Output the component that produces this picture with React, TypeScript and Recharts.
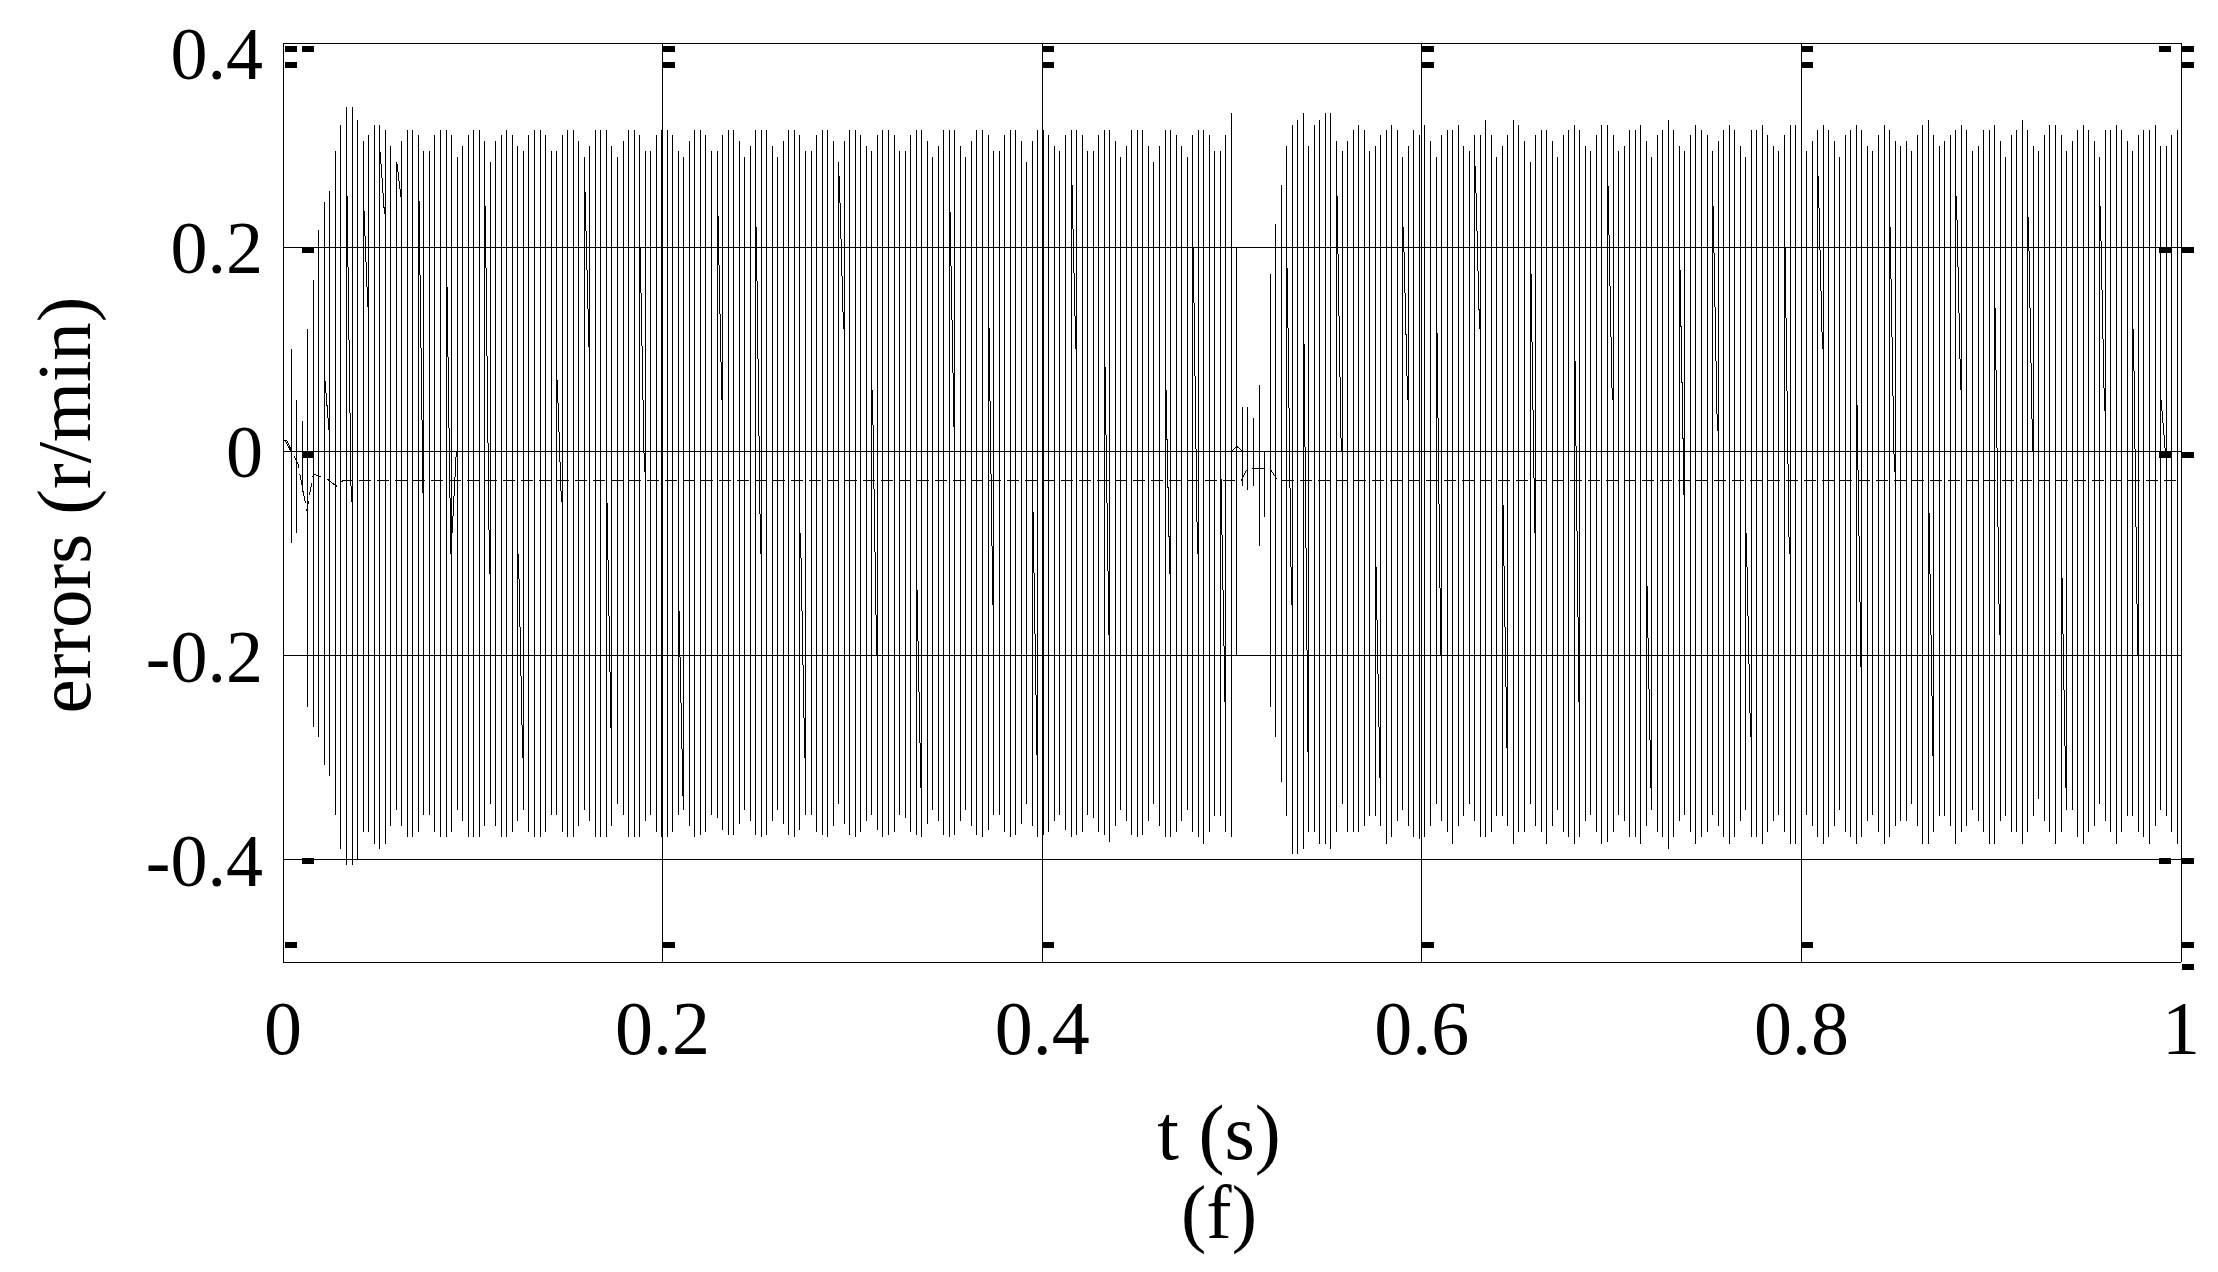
import { LineChart, Line, XAxis, YAxis, CartesianGrid, ReferenceLine, Label } from "recharts";

const SERIF = '"Liberation Serif", "Times New Roman", serif';

// spikes come every ~2.9 ms; first one just after t=0
const SPIKE_T0 = 0.0043;
const SPIKE_DT = 0.002914;
const START_LEVEL = 0.011;
const REST_LEVEL = 0.0;
const GAP_LEVEL = 0.005;
const gapSpikes = [171];

// peak of each spike (r/min)
const spikeHigh = [
  0.100, 0.050, 0.030, 0.120, 0.168, 0.217, 0.244, 0.255, 0.294, 0.320,
  0.337, 0.337, 0.325, 0.304, 0.310, 0.320, 0.320, 0.315, 0.299, 0.283,
  0.304, 0.315, 0.315, 0.310, 0.294, 0.294, 0.310, 0.315, 0.315, 0.310,
  0.288, 0.299, 0.310, 0.315, 0.315, 0.304, 0.283, 0.304, 0.310, 0.315,
  0.310, 0.299, 0.294, 0.310, 0.315, 0.315, 0.310, 0.294, 0.294, 0.310,
  0.315, 0.315, 0.304, 0.288, 0.299, 0.315, 0.315, 0.315, 0.299, 0.288,
  0.304, 0.315, 0.315, 0.310, 0.294, 0.294, 0.310, 0.315, 0.315, 0.310,
  0.294, 0.288, 0.304, 0.315, 0.315, 0.310, 0.294, 0.294, 0.310, 0.315,
  0.315, 0.304, 0.288, 0.299, 0.315, 0.315, 0.315, 0.299, 0.288, 0.304,
  0.315, 0.315, 0.310, 0.294, 0.294, 0.310, 0.315, 0.315, 0.304, 0.283,
  0.304, 0.315, 0.315, 0.310, 0.299, 0.294, 0.310, 0.315, 0.315, 0.310,
  0.294, 0.294, 0.310, 0.315, 0.315, 0.304, 0.288, 0.299, 0.315, 0.315,
  0.315, 0.299, 0.288, 0.304, 0.315, 0.315, 0.310, 0.294, 0.294, 0.310,
  0.315, 0.315, 0.304, 0.283, 0.304, 0.315, 0.315, 0.310, 0.299, 0.294,
  0.310, 0.315, 0.315, 0.310, 0.294, 0.294, 0.310, 0.315, 0.315, 0.304,
  0.288, 0.299, 0.315, 0.315, 0.315, 0.299, 0.283, 0.299, 0.315, 0.315,
  0.310, 0.299, 0.288, 0.310, 0.315, 0.315, 0.310, 0.294, 0.294, 0.310,
  0.331, 0.200, 0.044, 0.044, 0.033, 0.065, -0.017, 0.174, 0.223, 0.261,
  0.299, 0.320, 0.325, 0.331, 0.299, 0.320, 0.325, 0.331, 0.331, 0.304,
  0.294, 0.304, 0.315, 0.320, 0.315, 0.294, 0.299, 0.310, 0.315, 0.320,
  0.315, 0.288, 0.299, 0.315, 0.310, 0.320, 0.304, 0.288, 0.310, 0.315,
  0.315, 0.320, 0.299, 0.294, 0.310, 0.310, 0.325, 0.310, 0.288, 0.299,
  0.310, 0.325, 0.320, 0.304, 0.283, 0.310, 0.315, 0.315, 0.304, 0.288,
  0.310, 0.315, 0.320, 0.315, 0.299, 0.294, 0.310, 0.320, 0.320, 0.310,
  0.294, 0.299, 0.315, 0.315, 0.320, 0.304, 0.288, 0.310, 0.315, 0.325,
  0.315, 0.299, 0.294, 0.310, 0.320, 0.315, 0.310, 0.294, 0.304, 0.315,
  0.320, 0.315, 0.299, 0.288, 0.315, 0.315, 0.320, 0.310, 0.299, 0.294,
  0.310, 0.320, 0.320, 0.310, 0.294, 0.304, 0.315, 0.320, 0.315, 0.304,
  0.288, 0.310, 0.315, 0.320, 0.315, 0.299, 0.294, 0.310, 0.320, 0.315,
  0.304, 0.299, 0.304, 0.294, 0.310, 0.320, 0.325, 0.310, 0.299, 0.304,
  0.310, 0.315, 0.320, 0.315, 0.294, 0.299, 0.315, 0.315, 0.320, 0.304,
  0.288, 0.310, 0.315, 0.325, 0.315, 0.299, 0.294, 0.310, 0.320, 0.320,
  0.310, 0.294, 0.304, 0.315, 0.320, 0.315, 0.304, 0.288, 0.315, 0.315,
  0.320, 0.315, 0.304, 0.294, 0.310, 0.315, 0.315, 0.320, 0.299, 0.299,
  0.310, 0.315,
];

// trough of each spike (r/min)
const spikeLow = [
  -0.090, -0.080, -0.040, -0.250, -0.270, -0.280, -0.307, -0.318, -0.356, -0.389,
  -0.405, -0.405, -0.400, -0.373, -0.373, -0.384, -0.389, -0.384, -0.367, -0.351,
  -0.367, -0.378, -0.378, -0.373, -0.356, -0.356, -0.373, -0.378, -0.378, -0.373,
  -0.351, -0.362, -0.378, -0.378, -0.378, -0.367, -0.345, -0.367, -0.378, -0.378,
  -0.373, -0.362, -0.351, -0.373, -0.378, -0.378, -0.373, -0.356, -0.356, -0.373,
  -0.378, -0.378, -0.367, -0.351, -0.362, -0.378, -0.378, -0.378, -0.367, -0.345,
  -0.356, -0.378, -0.378, -0.378, -0.362, -0.356, -0.373, -0.378, -0.378, -0.373,
  -0.356, -0.351, -0.367, -0.378, -0.376, -0.373, -0.356, -0.359, -0.371, -0.376,
  -0.376, -0.365, -0.351, -0.362, -0.376, -0.378, -0.376, -0.362, -0.351, -0.365,
  -0.376, -0.378, -0.371, -0.356, -0.356, -0.373, -0.376, -0.378, -0.367, -0.345,
  -0.365, -0.376, -0.378, -0.373, -0.362, -0.356, -0.371, -0.378, -0.376, -0.373,
  -0.356, -0.359, -0.373, -0.376, -0.378, -0.365, -0.351, -0.362, -0.376, -0.378,
  -0.376, -0.362, -0.351, -0.367, -0.376, -0.378, -0.371, -0.356, -0.356, -0.373,
  -0.378, -0.376, -0.365, -0.345, -0.367, -0.378, -0.376, -0.373, -0.362, -0.356,
  -0.371, -0.378, -0.376, -0.373, -0.356, -0.359, -0.373, -0.376, -0.382, -0.367,
  -0.351, -0.362, -0.376, -0.378, -0.376, -0.362, -0.345, -0.367, -0.378, -0.378,
  -0.373, -0.362, -0.351, -0.373, -0.378, -0.384, -0.373, -0.357, -0.357, -0.373,
  -0.378, -0.200, -0.034, -0.038, -0.034, -0.093, -0.064, -0.250, -0.280, -0.324,
  -0.357, -0.394, -0.394, -0.389, -0.373, -0.373, -0.384, -0.384, -0.389, -0.373,
  -0.345, -0.373, -0.373, -0.373, -0.367, -0.357, -0.357, -0.367, -0.384, -0.378,
  -0.362, -0.351, -0.367, -0.378, -0.380, -0.378, -0.367, -0.345, -0.362, -0.373,
  -0.384, -0.367, -0.357, -0.345, -0.362, -0.378, -0.378, -0.373, -0.357, -0.357,
  -0.367, -0.384, -0.373, -0.373, -0.345, -0.367, -0.373, -0.384, -0.367, -0.351,
  -0.373, -0.378, -0.384, -0.378, -0.362, -0.356, -0.373, -0.384, -0.382, -0.373,
  -0.356, -0.362, -0.378, -0.378, -0.384, -0.367, -0.351, -0.373, -0.378, -0.389,
  -0.378, -0.362, -0.356, -0.373, -0.384, -0.378, -0.373, -0.356, -0.367, -0.378,
  -0.384, -0.378, -0.362, -0.351, -0.378, -0.378, -0.384, -0.373, -0.362, -0.356,
  -0.373, -0.384, -0.384, -0.373, -0.356, -0.367, -0.378, -0.384, -0.378, -0.367,
  -0.351, -0.373, -0.378, -0.384, -0.378, -0.362, -0.356, -0.373, -0.384, -0.378,
  -0.367, -0.362, -0.362, -0.345, -0.367, -0.384, -0.384, -0.373, -0.357, -0.357,
  -0.367, -0.384, -0.373, -0.367, -0.351, -0.362, -0.373, -0.384, -0.384, -0.362,
  -0.357, -0.373, -0.373, -0.384, -0.373, -0.357, -0.340, -0.362, -0.373, -0.384,
  -0.373, -0.351, -0.351, -0.378, -0.384, -0.373, -0.367, -0.345, -0.362, -0.373,
  -0.384, -0.373, -0.357, -0.357, -0.373, -0.378, -0.384, -0.367, -0.351, -0.357,
  -0.373, -0.384,
];

// slow strokes that cross between two spikes: [spike index, from, to]
const slants: [number, number, number][] = [
  [6, 0.07, 0.02], [10, 0.25, -0.05], [13, 0.245, 0.141], [16, 0.293, 0.233],
  [19, 0.283, 0.249], [23, 0.25, -0.05], [28, 0.19, -0.1], [29, -0.08, 0.0],
  [35, 0.24, -0.12], [41, -0.1, -0.3], [48, 0.07, -0.05], [53, 0.26, 0.1],
  [57, -0.05, -0.28], [63, 0.2, -0.02], [70, -0.15, -0.34], [77, 0.25, 0.05],
  [84, 0.22, -0.1], [92, -0.08, -0.3], [99, 0.27, 0.12], [105, 0.06, -0.2],
  [113, -0.12, -0.33], [119, 0.24, 0.02], [126, 0.15, -0.15], [134, -0.05, -0.3],
  [141, 0.28, 0.1], [147, 0.1, -0.18], [158, 0.08, -0.12], [163, 0.2, -0.1],
  [168, -0.02, -0.25], [180, 0.18, -0.15], [183, 0.12, -0.3], [189, 0.25, 0.0],
  [196, -0.1, -0.32], [201, 0.22, 0.05], [207, 0.15, -0.2], [214, 0.28, 0.12],
  [219, -0.05, -0.3], [224, 0.2, -0.08], [232, 0.1, -0.25], [238, 0.26, 0.05],
  [245, -0.12, -0.33], [251, 0.18, -0.05], [257, 0.24, 0.02], [263, -0.08, -0.28],
  [270, 0.2, -0.1], [276, 0.27, 0.1], [283, 0.05, -0.22], [289, 0.22, -0.02],
  [296, -0.05, -0.3], [301, 0.25, 0.06], [308, 0.14, -0.18], [314, 0.23, 0.0],
  [320, -0.1, -0.33], [327, 0.24, 0.04], [333, 0.12, -0.2], [338, 0.05, 0.0],
];

// dashed mean-error curve
const meanTimes = [0.002, 0.008, 0.0125, 0.016, 0.024, 0.028, 0.032, 0.04, 0.505, 0.508, 0.52, 0.524, 1.0];
const meanValues = [0.011, -0.013, -0.058, -0.022, -0.028, -0.034, -0.028, -0.028, -0.028, -0.017, -0.017, -0.028, -0.028];

// short thick marks along the frame: [x from, x to, y]
const frameMarks: [number, number, number][] = [
  [0.001, 0.0074, 0.394], [0.01, 0.0163, 0.394], [0.001, 0.0074, 0.378],
  [0.01, 0.0163, 0.197], [0.01, 0.0163, -0.003], [0.01, 0.0163, -0.401],
  [0.001, 0.0074, -0.483],
  [0.2, 0.2063, 0.394], [0.2, 0.2063, 0.378], [0.2, 0.2063, -0.483],
  [0.4, 0.4063, 0.394], [0.4, 0.4063, 0.378], [0.4, 0.4063, -0.483],
  [0.6, 0.6063, 0.394], [0.6, 0.6063, 0.378], [0.6, 0.6063, -0.483],
  [0.8, 0.8063, 0.394], [0.8, 0.8063, 0.378], [0.8, 0.8063, -0.483],
  [0.9885, 0.9948, 0.394], [1.0005, 1.0068, 0.394], [1.0005, 1.0068, 0.378],
  [0.9885, 0.9948, 0.197], [1.0005, 1.0068, 0.197],
  [0.9885, 0.9948, -0.003], [1.0005, 1.0068, -0.003],
  [0.9885, 0.9948, -0.401], [1.0005, 1.0068, -0.401],
  [1.0005, 1.0068, -0.483], [1.0005, 1.0068, -0.505],
];

const xTicks = [0, 0.2, 0.4, 0.6, 0.8, 1];
const xTickLabels = ["0", "0.2", "0.4", "0.6", "0.8", "1"];
const yTicks = [-0.4, -0.2, 0, 0.2, 0.4];
const yTickLabels = ["-0.4", "-0.2", "0", "0.2", "0.4"];

const trace: { t: number; v: number }[] = [{ t: 0.001, v: START_LEVEL }];
spikeHigh.forEach((hi, k) => {
  const t = SPIKE_T0 + k * SPIKE_DT;
  const rest = gapSpikes.includes(k) ? GAP_LEVEL : REST_LEVEL;
  trace.push({ t, v: rest }, { t, v: hi }, { t, v: spikeLow[k] }, { t, v: rest });
});
trace.push({ t: 1, v: REST_LEVEL });

const slantTrace: { t: number; s: number | null }[] = [];
slants.forEach(([k, a, b]) => {
  const t = SPIKE_T0 + k * SPIKE_DT;
  slantTrace.push({ t: t + 0.0003, s: a }, { t: t + SPIKE_DT - 0.0004, s: b }, { t: t + SPIKE_DT - 0.0003, s: null });
});

const meanTrace = meanTimes.map((t, i) => ({ t, m: meanValues[i] }));

const XTick = ({ x, y, payload }: any) => {
  const i = xTicks.indexOf(payload.value);
  return (
    <text x={x} y={y + 92} textAnchor="middle" fontFamily={SERIF} fontSize={76} fill="#000">
      {xTickLabels[i]}
    </text>
  );
};

const YTick = ({ x, y, payload }: any) => {
  const i = yTicks.indexOf(payload.value);
  const shift = payload.value === 0.4 ? 12 : 2;
  return (
    <text x={x - 20} y={y + shift + 24} textAnchor="end" fontFamily={SERIF} fontSize={74} fill="#000">
      {yTickLabels[i]}
    </text>
  );
};

const XTitle = () => (
  <g>
    <text x={1211} y={1124} textAnchor="middle" dominantBaseline="central" fontFamily={SERIF} fontSize={78} fill="#000">
      t (s)
    </text>
    <text x={1211} y={1204} textAnchor="middle" dominantBaseline="central" fontFamily={SERIF} fontSize={76} fill="#000">
      (f)
    </text>
  </g>
);

const YTitle = () => (
  <text
    x={56}
    y={497}
    transform="rotate(-90 56 497)"
    textAnchor="middle"
    dominantBaseline="central"
    fontFamily={SERIF}
    fontSize={77}
    fill="#000"
  >
    errors (r/min)
  </text>
);

export default function App() {
  return (
    <div style={{ width: 2210, height: 1264, background: "#fff" }}>
      <style>{"svg line, svg path { shape-rendering: crispEdges; }"}</style>
      <LineChart width={2210} height={1264} margin={{ top: 35, right: 37, left: 0, bottom: 0 }}>
        <CartesianGrid stroke="#000" strokeWidth={1} />
        <XAxis
          dataKey="t"
          type="number"
          domain={[0, 1]}
          ticks={xTicks}
          allowDataOverflow
          height={310}
          tickSize={0}
          tickMargin={0}
          axisLine={{ stroke: "#000" }}
          tickLine={false}
          tick={<XTick />}
        >
          <Label content={<XTitle />} />
        </XAxis>
        <YAxis
          type="number"
          domain={[-0.5, 0.4]}
          ticks={yTicks}
          allowDataOverflow
          width={275}
          tickSize={0}
          tickMargin={0}
          axisLine={{ stroke: "#000" }}
          tickLine={false}
          tick={<YTick />}
        >
          <Label content={<YTitle />} />
        </YAxis>
        <Line
          data={trace}
          dataKey="v"
          type="linear"
          stroke="#000"
          strokeWidth={1}
          dot={false}
          activeDot={false}
          isAnimationActive={false}
        />
        <Line
          data={slantTrace}
          dataKey="s"
          type="linear"
          stroke="#000"
          strokeWidth={1}
          dot={false}
          activeDot={false}
          connectNulls={false}
          isAnimationActive={false}
        />
        <Line
          data={meanTrace}
          dataKey="m"
          type="linear"
          stroke="#000"
          strokeWidth={1}
          strokeDasharray="12 6"
          dot={false}
          activeDot={false}
          isAnimationActive={false}
        />
        {frameMarks.map(([a, b, y], i) => (
          <ReferenceLine
            key={`mark-${i}`}
            segment={[{ x: a, y }, { x: b, y }]}
            stroke="#000"
            strokeWidth={6}
            ifOverflow="visible"
          />
        ))}
      </LineChart>
    </div>
  );
}
